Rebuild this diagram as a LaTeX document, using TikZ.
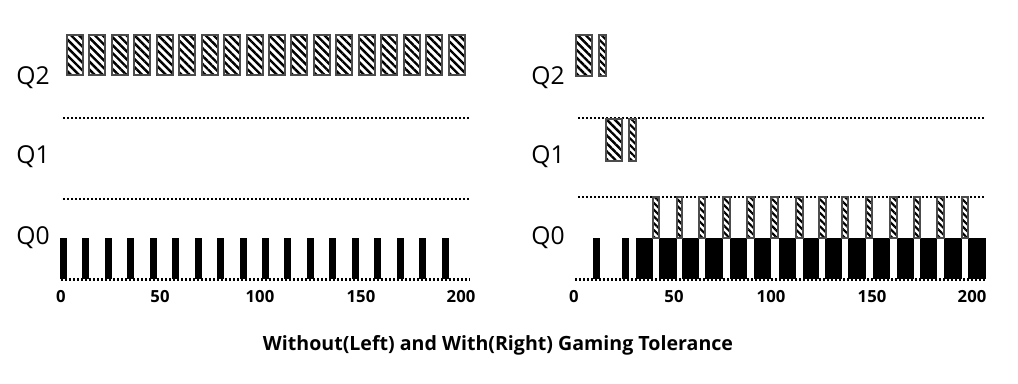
\documentclass[tikz,border=0pt]{standalone}
\usepackage{fontspec}
\setmainfont{Open Sans}
\usetikzlibrary{patterns.meta}

\tikzset{every picture/.style={line width=0.75pt}}
\tikzset{
  qzero/.style={fill=black,draw=none},
  qhatch/.style={draw=black!70,line width=0.8pt,pattern={Lines[angle=-45,distance=4.2pt,line width=1.8pt]}},
  qthin/.style={draw=black!70,line width=0.8pt,pattern={Lines[angle=-45,distance=3.6pt,line width=1.6pt]}},
  qsep/.style={line width=1.7pt,dash pattern=on 1.5pt off 1.5pt},
  qlabel/.style={font=\fontsize{18.5}{20}\selectfont},
  ticklabel/.style={font=\bfseries\fontsize{12.5}{14}\selectfont},
}

\begin{document}
\begin{tikzpicture}[x=0.75pt,y=0.75pt,yscale=-1,xscale=1]

\useasboundingbox (0,0) rectangle (1018,384);

% left: without gaming tolerance
\draw [qsep]  (63,118) -- (469,118) ;
\draw [qsep]  (63,199) -- (469,199) ;
\draw [qsep]  (61,279.5) -- (470,279.5) ;

\fill [qzero]  (60,238) rectangle (67,279) ;
\fill [qzero]  (82,238) rectangle (89,279) ;
\fill [qzero]  (105,238) rectangle (112,279) ;
\fill [qzero]  (127,238) rectangle (134,279) ;
\fill [qzero]  (150,238) rectangle (157,279) ;
\fill [qzero]  (172,238) rectangle (179,279) ;
\fill [qzero]  (195,238) rectangle (202,279) ;
\fill [qzero]  (217,238) rectangle (224,279) ;
\fill [qzero]  (240,238) rectangle (247,279) ;
\fill [qzero]  (262,238) rectangle (269,279) ;
\fill [qzero]  (284,238) rectangle (291,279) ;
\fill [qzero]  (307,238) rectangle (314,279) ;
\fill [qzero]  (329,238) rectangle (336,279) ;
\fill [qzero]  (352,238) rectangle (359,279) ;
\fill [qzero]  (374,238) rectangle (381,279) ;
\fill [qzero]  (397,238) rectangle (404,279) ;
\fill [qzero]  (419,238) rectangle (426,279) ;
\fill [qzero]  (442,238) rectangle (449,279) ;

\draw [qhatch]  (67,35) rectangle (83,75) ;
\draw [qhatch]  (89,35) rectangle (105,75) ;
\draw [qhatch]  (112,35) rectangle (128,75) ;
\draw [qhatch]  (134,35) rectangle (150,75) ;
\draw [qhatch]  (157,35) rectangle (173,75) ;
\draw [qhatch]  (179,35) rectangle (195,75) ;
\draw [qhatch]  (202,35) rectangle (218,75) ;
\draw [qhatch]  (224,35) rectangle (240,75) ;
\draw [qhatch]  (247,35) rectangle (263,75) ;
\draw [qhatch]  (269,35) rectangle (285,75) ;
\draw [qhatch]  (291,35) rectangle (307,75) ;
\draw [qhatch]  (314,35) rectangle (330,75) ;
\draw [qhatch]  (336,35) rectangle (352,75) ;
\draw [qhatch]  (359,35) rectangle (375,75) ;
\draw [qhatch]  (381,35) rectangle (397,75) ;
\draw [qhatch]  (404,35) rectangle (420,75) ;
\draw [qhatch]  (426,35) rectangle (442,75) ;
\draw [qhatch]  (449,35) rectangle (465,75) ;

% right: with gaming tolerance
\draw [qsep]  (578,118) -- (985,118) ;
\draw [qsep]  (578,197) -- (985,197) ;
\draw [qsep]  (575,279.5) -- (985,279.5) ;

\draw [qhatch]  (576,35) rectangle (592,76) ;
\draw [qthin]  (599,35) rectangle (606,76) ;
\draw [qhatch]  (606,119) rectangle (622,161) ;
\draw [qthin]  (629,119) rectangle (636,161) ;

\fill [qzero]  (593,238) rectangle (600,279) ;
\fill [qzero]  (622,238) rectangle (629,279) ;
\fill [qzero]  (636,238) rectangle (653,279) ;
\fill [qzero]  (659,238) rectangle (677,279) ;
\fill [qzero]  (682,238) rectangle (699,279) ;
\fill [qzero]  (705,238) rectangle (723,279) ;
\fill [qzero]  (730,238) rectangle (747,279) ;
\fill [qzero]  (754,238) rectangle (771,279) ;
\fill [qzero]  (779,238) rectangle (796,279) ;
\fill [qzero]  (803,238) rectangle (819,279) ;
\fill [qzero]  (825,238) rectangle (842,279) ;
\fill [qzero]  (848,238) rectangle (866,279) ;
\fill [qzero]  (873,238) rectangle (890,279) ;
\fill [qzero]  (897,238) rectangle (914,279) ;
\fill [qzero]  (920,238) rectangle (937,279) ;
\fill [qzero]  (944,238) rectangle (962,279) ;
\fill [qzero]  (968,238) rectangle (986,279) ;

\draw [qthin]  (653,197) rectangle (659,238) ;
\draw [qthin]  (677,197) rectangle (682,238) ;
\draw [qthin]  (699,197) rectangle (705,238) ;
\draw [qthin]  (723,197) rectangle (730,238) ;
\draw [qthin]  (747,197) rectangle (754,238) ;
\draw [qthin]  (771,197) rectangle (778,238) ;
\draw [qthin]  (796,197) rectangle (803,238) ;
\draw [qthin]  (819,197) rectangle (826,238) ;
\draw [qthin]  (842,197) rectangle (848,238) ;
\draw [qthin]  (866,197) rectangle (872,238) ;
\draw [qthin]  (890,197) rectangle (897,238) ;
\draw [qthin]  (914,197) rectangle (920,238) ;
\draw [qthin]  (937,197) rectangle (944,238) ;
\draw [qthin]  (962,197) rectangle (968,238) ;

% queue names
\draw (33,78) node [qlabel] (lq2) {Q2};
\draw (33,157) node [qlabel] (lq1) {Q1};
\draw (33,238) node [qlabel] (lq0) {Q0};
\draw (548,78) node [qlabel] (rq2) {Q2};
\draw (548,157) node [qlabel] (rq1) {Q1};
\draw (548,238) node [qlabel] (rq0) {Q0};

% time axis
\draw (61,297) node [ticklabel] (lt0) {0};
\draw (160,297) node [ticklabel] (lt50) {50};
\draw (260,297) node [ticklabel] (lt100) {100};
\draw (361,297) node [ticklabel] (lt150) {150};
\draw (461,297) node [ticklabel] (lt200) {200};
\draw (574,297) node [ticklabel] (rt0) {0};
\draw (674,297) node [ticklabel] (rt50) {50};
\draw (771,297) node [ticklabel] (rt100) {100};
\draw (872,297) node [ticklabel] (rt150) {150};
\draw (972,297) node [ticklabel] (rt200) {200};

\draw (498,345) node [font=\bfseries\fontsize{14.7}{16}\selectfont] (caption) {Without(Left) and With(Right) Gaming Tolerance};

\end{tikzpicture}
\end{document}
